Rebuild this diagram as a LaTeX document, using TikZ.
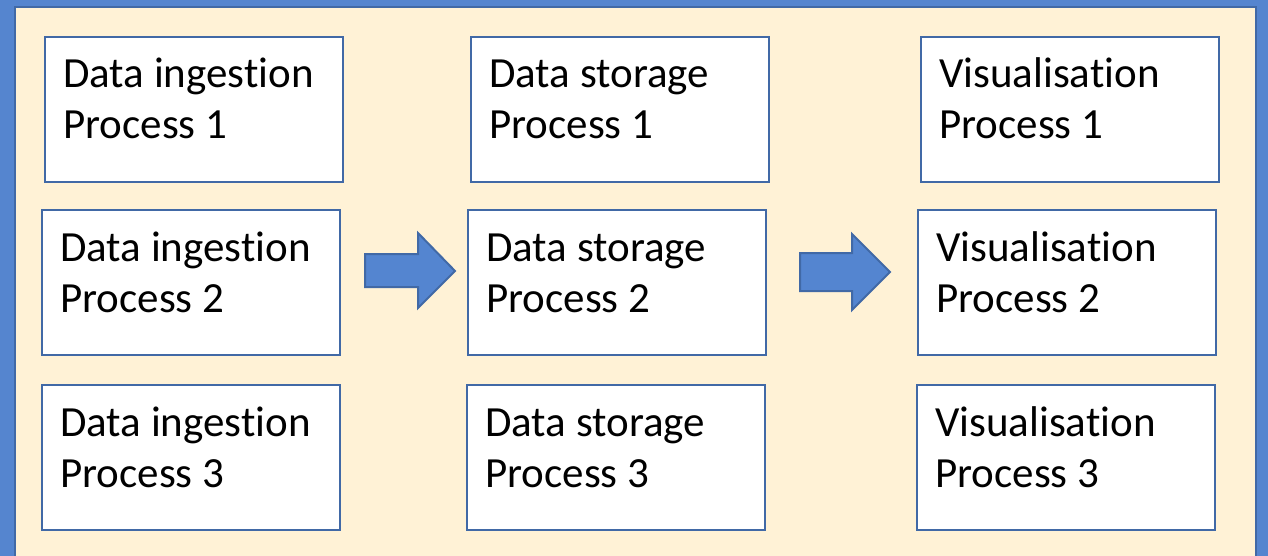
\documentclass[tikz,border=0pt]{standalone}
\usepackage{fontspec}
\setmainfont{Carlito}[Ligatures=NoCommon]
\definecolor{frameblue}{HTML}{5585CF}
\definecolor{edgeblue}{HTML}{4169A6}
\definecolor{cream}{HTML}{FFF2D6}
\definecolor{arrowblue}{HTML}{5485D0}
\begin{document}
\begin{tikzpicture}[x=1pt,y=1pt,
  stagebox/.style={draw=edgeblue, line width=2.4pt, fill=white, rectangle,
    minimum width=298pt, minimum height=145pt, inner sep=0pt, anchor=north west},
  txt/.style={font=\fontsize{43}{51}\selectfont, inner sep=0pt, anchor=base west, text=black},
  blockarrow/.style={draw=edgeblue, line width=2pt, fill=arrowblue, line join=miter}]
\useasboundingbox (0,0) rectangle (1268,-556);
% outer frame and background
\fill[frameblue] (0,0) rectangle (1268,-556);
\fill[cream] (15,-7) rectangle (1256,-570);
\draw[edgeblue, line width=2pt] (15,-570) -- (15,-7) -- (1256,-7) -- (1256,-570);

% process boxes with two lines of text each
\foreach \n/\x/\y/\a/\b in {
  i1/44/36/Data ingestion/Process 1,
  i2/41/209/Data ingestion/Process 2,
  i3/41/384/Data ingestion/Process 3,
  s1/470/36/Data storage/Process 1,
  s2/467/209/Data storage/Process 2,
  s3/466/384/Data storage/Process 3,
  v1/920/36/Visualisation/Process 1,
  v2/917/209/Visualisation/Process 2,
  v3/916/384/Visualisation/Process 3}{
  \node[stagebox] (\n) at (\x,-\y) {};
  \node[txt] (\n-a) at ([shift={(19,-52)}]\n.north west) {\a};
  \node[txt] (\n-b) at ([shift={(19,-103)}]\n.north west) {\b};
}

% block arrows between the stages
\draw[blockarrow] (365,-254) -- (418,-254) -- (418,-233) -- (455,-271)
  -- (418,-308) -- (418,-287) -- (365,-287) -- cycle;
\draw[blockarrow] (800,-253) -- (852,-253) -- (852,-234) -- (890,-272)
  -- (852,-310) -- (852,-291) -- (800,-291) -- cycle;
\end{tikzpicture}
\end{document}
